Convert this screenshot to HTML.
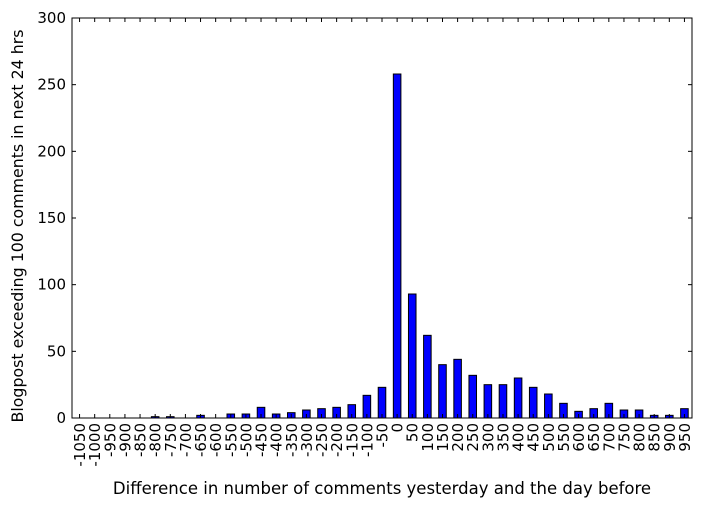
<!DOCTYPE html>
<html><head><meta charset="utf-8"><style>
body{margin:0;background:#fff;}
svg{display:block;font-family:"DejaVu Sans",sans-serif;}
</style></head><body>
<svg id="chart" width="703" height="507"></svg>
<script>
const categories=[-1050,-1000,-950,-900,-850,-800,-750,-700,-650,-600,-550,-500,-450,-400,-350,-300,-250,-200,-150,-100,-50,0,50,100,150,200,250,300,350,400,450,500,550,600,650,700,750,800,850,900,950];
const values=[0,0,0,0,0,1,1,0,2,0,3,3,8,3,4,6,7,8,10,17,23,258,93,62,40,44,32,25,25,30,23,18,11,5,7,11,6,6,2,2,7];
const yTicks=[0,50,100,150,200,250,300];
const L=72,R=692,T=18,B=418,YMAX=300;
const svg=document.getElementById('chart');
const NS='http://www.w3.org/2000/svg';
const step=(R-L)/categories.length;
function x(i){return L+(i+0.5)*step;}
function y(v){return B-(v/YMAX)*(B-T);}
function mk(t,a){const e=document.createElementNS(NS,t);for(const k in a)e.setAttribute(k,a[k]);svg.appendChild(e);return e;}
values.forEach((v,i)=>{
  const bw=step*0.5;
  const r=mk('rect',{x:x(i)-bw/2,y:y(v),width:bw,height:B-y(v),fill:'#0000ff',stroke:'#000','stroke-width':1});
  
  
});
const frame=mk('rect',{x:L,y:T,width:R-L,height:B-T,fill:'none',stroke:'#000','stroke-width':1});


yTicks.forEach(v=>{
  mk('line',{x1:L,x2:L+4,y1:y(v),y2:y(v),stroke:'#000'});
  mk('line',{x1:R,x2:R-4,y1:y(v),y2:y(v),stroke:'#000'});
  const t=mk('text',{x:L-6,y:y(v)+5,'text-anchor':'end','font-size':15});
  t.textContent=v;
  
  
});
categories.forEach((c,i)=>{
  mk('line',{x1:x(i),x2:x(i),y1:B,y2:B-4,stroke:'#000'});
  mk('line',{x1:x(i),x2:x(i),y1:T,y2:T+4,stroke:'#000'});
  const t=mk('text',{x:0,y:0,'text-anchor':'end','font-size':15,transform:'translate('+(x(i)+5.5)+','+(B+5)+') rotate(-90)'});
  t.textContent=c;
  
  
});
const xt=mk('text',{x:382,y:494,'text-anchor':'middle','font-size':16.5});
xt.textContent='Difference in number of comments yesterday and the day before';


const yt=mk('text',{x:0,y:0,'text-anchor':'middle','font-size':15.8,transform:'translate(23,226) rotate(-90)'});
yt.textContent='Blogpost exceeding 100 comments in next 24 hrs';


</script>
</body></html>
